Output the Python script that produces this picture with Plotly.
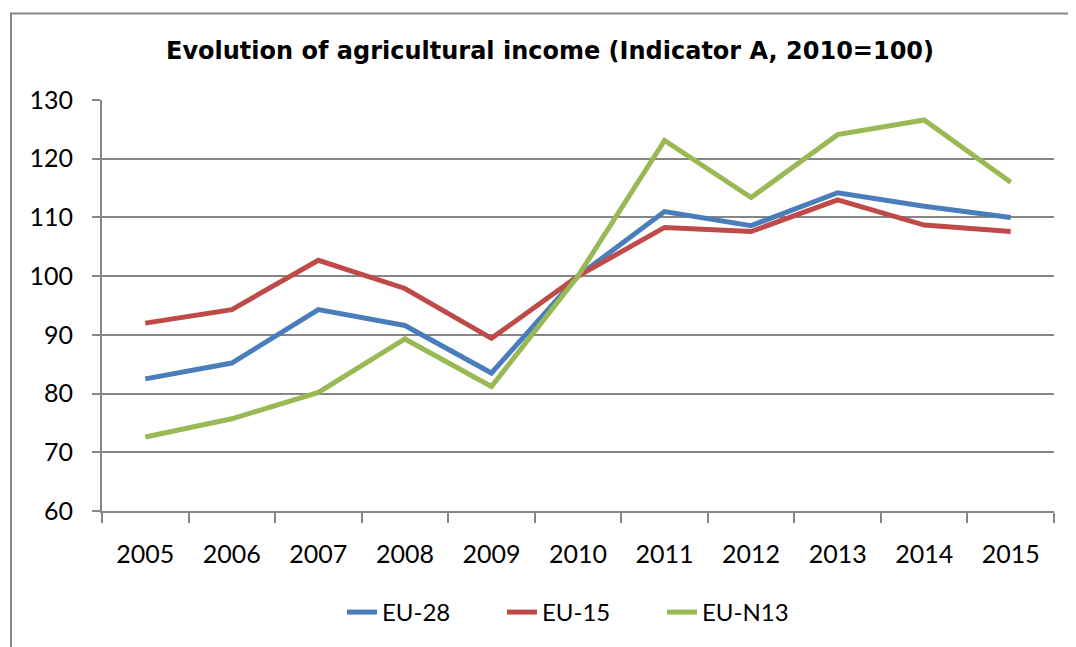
import plotly.graph_objects as go

years = ["2005", "2006", "2007", "2008", "2009", "2010", "2011", "2012", "2013", "2014", "2015"]
eu28 = [82.5, 85.2, 94.3, 91.6, 83.5, 100.0, 111.0, 108.6, 114.2, 111.9, 110.0]
eu15 = [92.0, 94.3, 102.7, 97.9, 89.4, 100.0, 108.3, 107.6, 113.0, 108.7, 107.6]
eun13 = [72.6, 75.7, 80.2, 89.3, 81.2, 100.0, 123.1, 113.4, 124.1, 126.6, 116.0]

series_names = ["EU-28", "EU-15", "EU-N13"]
series_values = [eu28, eu15, eun13]
series_colors = ["#4A7EBB", "#BE4B48", "#98B954"]

title_text = "Evolution of agricultural income (Indicator A, 2010=100)"

fig = go.Figure()
for name, vals, col in zip(series_names, series_values, series_colors):
    fig.add_trace(go.Scatter(
        x=years, y=vals, mode="lines", name=name,
        line=dict(color=col, width=5),
    ))

grid_col = "#868686"
tick_font = dict(family="Lato, Calibri, sans-serif", size=25, color="#000000")

# page body has an 8px margin; figure is sized/placed to compensate
W, H = 1068, 639
L, R, T, B = 94, 22, 92, 134
PW, PH = W - L - R, H - T - B

fig.update_layout(
    width=W, height=H,
    margin=dict(l=L, r=R, t=T, b=B),
    paper_bgcolor="white", plot_bgcolor="white",
    title=dict(
        text="<b>" + title_text + "</b>",
        x=542 / W, xanchor="center", xref="container",
        y=1 - 43 / H, yanchor="middle", yref="container",
        font=dict(family="DejaVu Sans", size=24, color="#000000"),
    ),
    showlegend=True,
    legend=dict(
        orientation="h", x=(574 - L) / PW, xanchor="center",
        y=(PH + T - 607) / PH, yanchor="middle",
        font=dict(family="Lato, Calibri, sans-serif", size=24, color="#000000"),
        entrywidth=115, tracegroupgap=0,
    ),
    hovermode=False,
    xaxis=dict(
        type="category", tickson="boundaries", ticks="outside", ticklen=10,
        tickwidth=2, tickcolor=grid_col, showgrid=False,
        showline=True, linecolor=grid_col, linewidth=2,
        tickfont=tick_font, ticklabelstandoff=20,
        range=[-0.5, 10.5], fixedrange=True,
    ),
    yaxis=dict(
        range=[60, 130], dtick=10, tick0=60, ticks="outside", ticklen=8,
        tickwidth=2, tickcolor=grid_col, showgrid=True, gridcolor=grid_col,
        gridwidth=2, showline=True, linecolor=grid_col, linewidth=2,
        tickfont=tick_font, ticklabelstandoff=14, zeroline=False,
        fixedrange=True,
    ),
    shapes=[dict(
        type="rect", xref="paper", yref="paper",
        x0=(3 - L) / PW, x1=(W + 20 - L) / PW,
        y0=(PH + T - (H + 20)) / PH, y1=(PH + T - 5) / PH,
        line=dict(color=grid_col, width=2), fillcolor="rgba(0,0,0,0)",
        layer="below",
    )],
)

fig.write_html("out.html")
